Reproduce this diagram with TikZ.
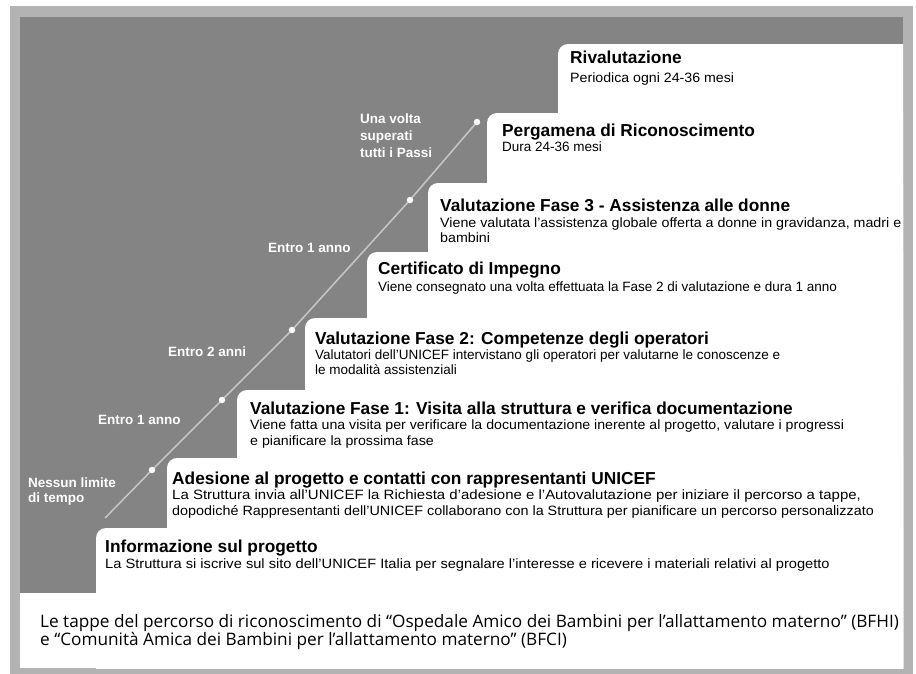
\documentclass[tikz,border=0pt]{standalone}
\usepackage{fontspec}
\usepackage{graphicx}
\setmainfont{Liberation Sans}
\newfontfamily\capfont{Open Sans}
\definecolor{framegray}{HTML}{B3B3B3}
\definecolor{bggray}{HTML}{848484}
\definecolor{linegray}{HTML}{C4C4C4}
\newcommand{\hs}[2]{\scalebox{#1}[1]{#2}}
\begin{document}
\begin{tikzpicture}[x=1pt,y=-1pt,
  stepbox/.style={fill=white,rounded corners=10pt},
  ttl/.style={anchor=base west,inner sep=0pt,font=\bfseries\fontsize{17.3}{19}\selectfont},
  subtxt/.style={anchor=base west,inner sep=0pt,font=\fontsize{13.5}{15}\selectfont},
  lbl/.style={anchor=base west,inner sep=0pt,text=white,font=\bfseries\fontsize{13.5}{15}\selectfont},
  captxt/.style={anchor=base west,inner sep=0pt,font=\capfont\fontsize{17.2}{19}\selectfont},
  tdot/.style={circle,fill=white!90!linegray,inner sep=0pt,minimum size=6.5pt}]
\useasboundingbox (0,0) rectangle (916,673);
% frame
\fill[framegray] (10,6) rectangle (913,678);
\begin{scope}
\clip (20,17) rectangle (903,668);
\fill[bggray] (20,17) rectangle (903,668);
\fill[stepbox] (558,44) rectangle (960,720);
\fill[stepbox] (487,113) rectangle (960,720);
\fill[stepbox] (428,183) rectangle (960,720);
\fill[stepbox] (367,252) rectangle (960,720);
\fill[stepbox] (305,318) rectangle (960,720);
\fill[stepbox] (237,390) rectangle (960,720);
\fill[stepbox] (167,458) rectangle (960,720);
\fill[stepbox] (96,528) rectangle (960,720);
\fill[white] (20,593) rectangle (903,668);
\end{scope}
% timeline
\coordinate (l0) at (105,518);
\coordinate (d1) at (152,470);
\coordinate (d2) at (222,400);
\coordinate (d3) at (292,330);
\coordinate (d4) at (410,200);
\coordinate (d5) at (477,122);
\draw[linegray,line width=1.6pt] (l0) -- (d1) -- (d2) -- (d3) -- (d4) -- (d5);
\foreach \p in {d1,d2,d3,d4,d5} \node[tdot] at (\p) {};
% left labels
\node[lbl] (n1a) at (28,487) {Nessun limite};
\node[lbl] (n1b) at (28,502) {di tempo};
\node[lbl] (n2) at (98,424) {Entro 1 anno};
\node[lbl] (n3) at (168,356) {Entro 2 anni};
\node[lbl] (n4) at (268,252) {Entro 1 anno};
\node[lbl] (n5a) at (360,123) {Una volta};
\node[lbl] (n5b) at (360,140) {superati};
\node[lbl] (n5c) at (360,157) {tutti i Passi};
% steps text
\node[ttl] (t1) at (570,63) {Rivalutazione};
\node[subtxt] (s1) at (570,82.5) {\hs{1.05}{Periodica ogni 24-36 mesi}};
\node[ttl] (t2) at (502,136) {Pergamena di Riconoscimento};
\node[subtxt] (s2) at (502,151) {Dura 24-36 mesi};
\node[ttl] (t3) at (440,211) {Valutazione Fase 3 - Assistenza alle donne};
\node[subtxt] (s3a) at (440,227) {\hs{1.055}{Viene valutata l'assistenza globale offerta a donne in gravidanza, madri e}};
\node[subtxt] (s3b) at (440,242) {\hs{1.055}{bambini}};
\node[ttl] (t4) at (378,274) {Certificato di Impegno};
\node[subtxt] (s4) at (378,291) {Viene consegnato una volta effettuata la Fase 2 di valutazione e dura 1 anno};
\node[ttl] (t5) at (315,344) {Valutazione Fase 2: Competenze degli operatori};
\node[subtxt] (s5a) at (315,359) {Valutatori dell'UNICEF intervistano gli operatori per valutarne le conoscenze e};
\node[subtxt] (s5b) at (315,374) {le modalità assistenziali};
\node[ttl] (t6) at (250,414) {Valutazione Fase 1: Visita alla struttura e verifica documentazione};
\node[subtxt] (s6a) at (250,429) {\hs{1.05}{Viene fatta una visita per verificare la documentazione inerente al progetto, valutare i progressi}};
\node[subtxt] (s6b) at (250,445) {\hs{1.05}{e pianificare la prossima fase}};
\node[ttl] (t7) at (172,484) {Adesione al progetto e contatti con rappresentanti UNICEF};
\node[subtxt] (s7a) at (172,499) {\hs{1.11}{La Struttura invia all'UNICEF la Richiesta d'adesione e l'Autovalutazione per iniziare il percorso a tappe,}};
\node[subtxt] (s7b) at (172,515) {\hs{1.065}{dopodiché Rappresentanti dell'UNICEF collaborano con la Struttura per pianificare un percorso personalizzato}};
\node[ttl] (t8) at (105,552) {Informazione sul progetto};
\node[subtxt] (s8) at (105,568) {\hs{1.085}{La Struttura si iscrive sul sito dell'UNICEF Italia per segnalare l'interesse e ricevere i materiali relativi al progetto}};
% caption
\node[captxt] (c1) at (40,627) {Le tappe del percorso di riconoscimento di “Ospedale Amico dei Bambini per l’allattamento materno” (BFHI)};
\node[captxt] (c2) at (40,645) {e “Comunità Amica dei Bambini per l’allattamento materno” (BFCI)};
\end{tikzpicture}
\end{document}
